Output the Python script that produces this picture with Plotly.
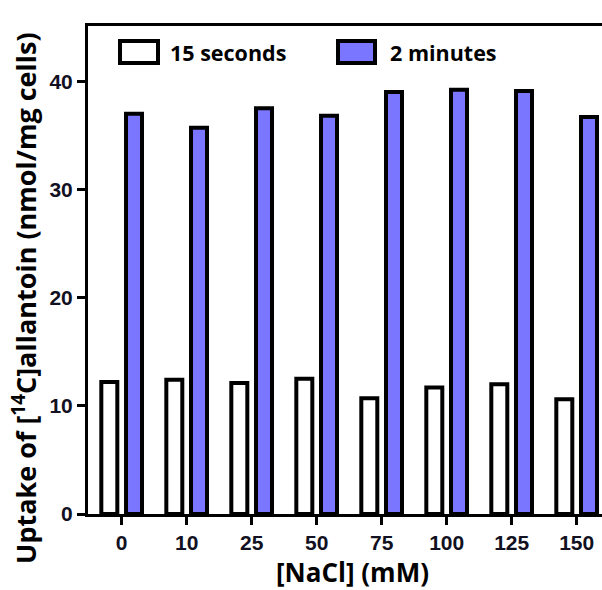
import plotly.graph_objects as go

# ---- data ----
categories = ["0", "10", "25", "50", "75", "100", "125", "150"]
uptake_15s = [12.2, 12.4, 12.1, 12.5, 10.7, 11.7, 12.0, 10.6]
uptake_2min = [37.0, 35.7, 37.5, 36.8, 39.0, 39.2, 39.1, 36.7]
series_names = ["15 seconds", "2 minutes"]
y_ticks = [0, 10, 20, 30, 40]

# ---- layout geometry (pixels) ----
W, H = 602, 590
L, R, T, B = 88, 0, 26, 76
PW, PH = W - L - R, H - T - B

def px(x):
    return (x - L) / PW

def py(y):
    return (H - B - y) / PH

BLUE = "#7B76FF"
TICKFONT = dict(family="Liberation Sans, Arial, sans-serif", size=21, color="#111122", weight="bold")
TITLEFAM = "Open Sans, sans-serif"

bw = 0.246
fig = go.Figure()
fig.add_trace(go.Bar(
    x=list(range(len(categories))), y=uptake_15s, name=series_names[0],
    width=bw, offset=-0.19 - bw / 2,
    marker=dict(color="white", line=dict(color="black", width=4)),
    showlegend=False,
))
fig.add_trace(go.Bar(
    x=list(range(len(categories))), y=uptake_2min, name=series_names[1],
    width=bw, offset=0.19 - bw / 2,
    marker=dict(color=BLUE, line=dict(color="black", width=4)),
    showlegend=False,
))

fig.update_layout(
    width=W, height=H,
    margin=dict(l=L, r=R, t=T, b=B, pad=0),
    paper_bgcolor="white", plot_bgcolor="white",
    barmode="overlay",
    xaxis=dict(
        range=[-0.518, 7.39],
        tickmode="array", tickvals=list(range(len(categories))), ticktext=categories,
        ticks="outside", ticklen=8, tickwidth=3, tickcolor="black",
        showline=True, linewidth=3, linecolor="black", mirror=True,
        showgrid=False, zeroline=False, tickfont=TICKFONT,
    ),
    yaxis=dict(
        range=[0, 45.1],
        tickmode="array", tickvals=y_ticks,
        ticks="outside", ticklen=8, tickwidth=3, tickcolor="black",
        showline=True, linewidth=3, linecolor="black",
        showgrid=False, zeroline=False, tickfont=TICKFONT,
    ),
)

# axis titles
fig.add_annotation(
    text="<b>Uptake of [<sup>14</sup>C]allantoin (nmol/mg cells)</b>",
    xref="paper", yref="paper", x=px(24), y=py(298),
    xanchor="center", yanchor="middle", textangle=-90,
    showarrow=False, font=dict(family=TITLEFAM, size=27, color="black"),
)
fig.add_annotation(
    text="<b>[NaCl] (mM)</b>",
    xref="paper", yref="paper", x=px(352), y=py(572),
    xanchor="center", yanchor="middle",
    showarrow=False, font=dict(family=TITLEFAM, size=26, color="black"),
)

# legend
legend_items = [(120, 158, "white", 168), (338, 375, BLUE, 388)]
for (x0, x1, col, tx), name in zip(legend_items, series_names):
    fig.add_shape(type="rect", xref="paper", yref="paper",
                  x0=px(x0), x1=px(x1), y0=py(63), y1=py(41),
                  fillcolor=col, line=dict(color="black", width=4))
    fig.add_annotation(text="<b>" + name + "</b>", xref="paper", yref="paper",
                       x=px(tx), y=py(52), xanchor="left", yanchor="middle",
                       showarrow=False,
                       font=dict(family=TITLEFAM, size=21.5, color="black"))

fig.write_html("out.html")
